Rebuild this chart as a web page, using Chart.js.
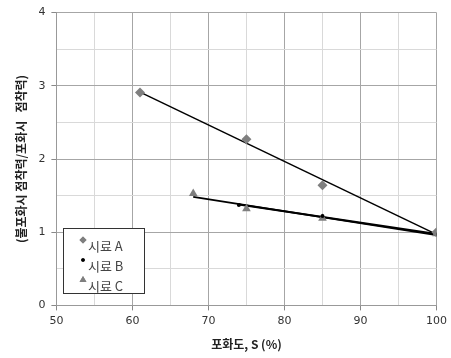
<!DOCTYPE html>
<html>
<head>
<meta charset="utf-8">
<script src="https://cdn.jsdelivr.net/npm/chart.js@4"></script>
<style>
  html, body { margin: 0; padding: 0; background: #fff; }
  #wrap { width: 451px; height: 358px; }
</style>
</head>
<body>
<div id="wrap"><canvas id="c" width="451" height="358"></canvas></div>
<script>
// Saturation (%) and cohesion ratio for each sample
const sampleAX = [61, 75, 85, 100];
const sampleAY = [2.91, 2.27, 1.64, 1.00];
const sampleBX = [74, 85, 100];
const sampleBY = [1.37, 1.22, 0.97];
const sampleCX = [68, 75, 85, 100];
const sampleCY = [1.53, 1.32, 1.19, 0.98];
const seriesLabels = ['시료 A', '시료 B', '시료 C'];
const xTickLabels = [50, 60, 70, 80, 90, 100];
const yTickLabels = [0, 1, 2, 3, 4];

function toPoints(xs, ys) { return xs.map((x, i) => ({ x: x, y: ys[i] })); }

// Least-squares linear trend drawn across the sample's x range
function trend(xs, ys) {
  const n = xs.length;
  const mx = xs.reduce((a, b) => a + b, 0) / n;
  const my = ys.reduce((a, b) => a + b, 0) / n;
  let sxy = 0, sxx = 0;
  for (let i = 0; i < n; i++) { sxy += (xs[i] - mx) * (ys[i] - my); sxx += (xs[i] - mx) ** 2; }
  const k = sxy / sxx;
  const x0 = Math.min(...xs), x1 = Math.max(...xs);
  return [{ x: x0, y: my + k * (x0 - mx) }, { x: x1, y: my + k * (x1 - mx) }];
}

const markerColor = '#7f7f7f';

// Boxed legend in the lower-left corner of the plot
const legendBox = {
  id: 'legendBox',
  afterDraw(chart) {
    const ctx = chart.ctx;
    const left = 63, top = 228, w = 81, h = 65;
    ctx.save();
    ctx.fillStyle = '#fff';
    ctx.fillRect(left, top, w, h);
    ctx.strokeStyle = '#333';
    ctx.lineWidth = 1;
    ctx.strokeRect(left + 0.5, top + 0.5, w, h);
    ctx.font = '13px "Noto Sans CJK KR", sans-serif';
    ctx.textBaseline = 'middle';
    const styles = ['rectRot', 'circle', 'triangle'];
    const radii = [3.5, 1.8, 4];
    for (let i = 0; i < 3; i++) {
      const ty = top + 16 + i * 20;
      ctx.fillStyle = i === 1 ? '#000' : markerColor;
      Chart.helpers.drawPoint(ctx, { pointStyle: styles[i], radius: radii[i], borderWidth: 0 }, left + 20, ty - 4);
      ctx.fill();
      ctx.fillStyle = '#444';
      ctx.fillText(seriesLabels[i], left + 25, ty + 2);
    }
    ctx.restore();
  }
};

new Chart(document.getElementById('c'), {
  type: 'scatter',
  data: {
    datasets: [
      { label: seriesLabels[0], data: toPoints(sampleAX, sampleAY), pointStyle: 'rectRot', pointRadius: 5,
        backgroundColor: markerColor, borderColor: markerColor, borderWidth: 0 },
      { label: seriesLabels[1], data: toPoints(sampleBX, sampleBY), pointStyle: 'circle', pointRadius: 2,
        backgroundColor: '#000', borderColor: '#000', borderWidth: 0 },
      { label: seriesLabels[2], data: toPoints(sampleCX, sampleCY), pointStyle: 'triangle', pointRadius: 5,
        backgroundColor: markerColor, borderColor: markerColor, borderWidth: 0 },
      { data: trend(sampleAX, sampleAY), showLine: true, pointRadius: 0, borderColor: '#000', borderWidth: 1.5 },
      { data: trend(sampleBX, sampleBY), showLine: true, pointRadius: 0, borderColor: '#000', borderWidth: 2 },
      { data: trend(sampleCX, sampleCY), showLine: true, pointRadius: 0, borderColor: '#000', borderWidth: 1.8 }
    ]
  },
  options: {
    responsive: false,
    animation: false,
    layout: { padding: { top: 12, right: 13, left: 10, bottom: 2 } },
    plugins: { legend: { display: false }, tooltip: { enabled: false } },
    scales: {
      x: {
        type: 'linear', min: xTickLabels[0], max: xTickLabels[xTickLabels.length - 1],
        border: { color: '#999' },
        ticks: {
          stepSize: 5, autoSkip: false, maxRotation: 0, color: '#333', padding: 4,
          font: { family: 'DejaVu Sans', size: 11 },
          callback: v => xTickLabels.includes(v) ? String(v) : ''
        },
        grid: {
          color: c => (c.tick && c.tick.value % 10 === 0) ? '#a6a6a6' : '#d9d9d9',
          tickColor: c => (c.tick && c.tick.value % 10 === 0) ? '#888' : 'rgba(0,0,0,0)',
          tickLength: 5
        },
        title: { display: true, text: '포화도, S (%)', color: '#222', padding: { top: 6 },
          font: { family: 'Noto Sans CJK KR', size: 12, weight: 'bold' } }
      },
      y: {
        min: yTickLabels[0], max: yTickLabels[yTickLabels.length - 1],
        border: { color: '#999' },
        ticks: {
          stepSize: 0.5, autoSkip: false, color: '#333', padding: 6,
          font: { family: 'DejaVu Sans', size: 11 },
          callback: v => yTickLabels.includes(v) ? String(v) : ''
        },
        grid: {
          color: c => (c.tick && Number.isInteger(c.tick.value)) ? '#a6a6a6' : '#d9d9d9',
          tickColor: c => (c.tick && Number.isInteger(c.tick.value)) ? '#888' : 'rgba(0,0,0,0)',
          tickLength: 5
        },
        title: { display: true, text: '(불포화시 점착력/포화시   점착력)', color: '#222', padding: { bottom: 4 },
          font: { family: 'Noto Sans CJK KR', size: 12, weight: 'bold' } }
      }
    }
  },
  plugins: [legendBox]
});
</script>
</body>
</html>
